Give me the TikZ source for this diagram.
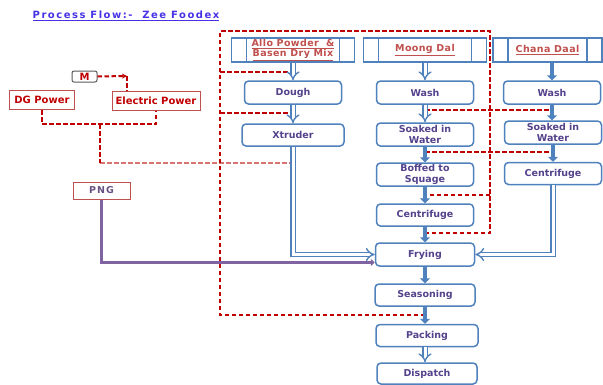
\documentclass[tikz,border=0pt]{standalone}
\usepackage{fontspec}
\setmainfont{DejaVu Sans}
\usetikzlibrary{arrows.meta, positioning, calc}
\definecolor{boxblue}{RGB}{79,129,189}
\definecolor{txtpurple}{RGB}{84,66,140}
\definecolor{hdrred}{RGB}{192,80,77}
\definecolor{feedred}{RGB}{192,0,0}
\definecolor{titleblue}{RGB}{70,50,230}
\definecolor{pngpurple}{RGB}{128,100,162}

\begin{document}
\begin{tikzpicture}[x=1pt, y=-1pt,
    procbox/.style={rectangle, draw=boxblue, line width=1.5pt, fill=white, rounded corners=4pt, text=txtpurple, align=center, inner sep=1pt, minimum width=97pt, minimum height=23pt, font=\fontsize{9.5}{10.5}\selectfont\bfseries},
    hdrbox/.style={rectangle, draw=boxblue, line width=1.6pt, fill=white, text=hdrred, align=center, inner sep=1pt, minimum height=24pt, font=\fontsize{9.5}{10.5}\selectfont\bfseries\addfontfeature{LetterSpace=4},
        path picture={\draw[boxblue, line width=1.4pt] ([xshift=15pt]path picture bounding box.north west) -- ([xshift=15pt]path picture bounding box.south west)
            ([xshift=-15pt]path picture bounding box.north east) -- ([xshift=-15pt]path picture bounding box.south east);}},
    powbox/.style={rectangle, draw=hdrred, line width=1pt, text=feedred, inner sep=1pt, minimum height=19pt, font=\fontsize{10}{11}\selectfont\bfseries},
    hollow/.style={draw=boxblue, line width=1.4pt, double=white, double distance=3pt, -{Implies}},
    solid/.style={draw=boxblue, line width=3.5pt, -{Triangle[length=5pt, width=10pt]}},
    feed/.style={draw=feedred, line width=2pt, dash pattern=on 4.5pt off 2.5pt},
    pngline/.style={draw=pngpurple, line width=2.2pt, -{Triangle[length=4pt, width=7pt]}}]
\useasboundingbox (0,0) rectangle (603,384);

% title
\node[text=titleblue, font=\fontsize{10}{11}\selectfont\bfseries\addfontfeature{LetterSpace=15}] (ttl) at (126,16) {\underline{Process Flow:-\ \ Zee Foodex}};

% raw material headers
\node[hdrbox, minimum width=123pt] (allo) at (293,50) {\underline{Allo Powder\ \ \&}\\\underline{Basen Dry Mix}};
\node[hdrbox, minimum width=123pt] (moong) at (425,50) {\underline{Moong Dal}};
\node[hdrbox, minimum width=109pt] (chana) at (547.5,50) {\underline{Chana Daal}};

% process steps
\node[procbox] (dough) at (293,92.5) {Dough};
\node[procbox, minimum width=102pt, minimum height=22pt] (xtr) at (293,135) {Xtruder};
\node[procbox] (mwash) at (425,92.5) {Wash};
\node[procbox] (msoak) at (425,134.5) {Soaked in\\Water};
\node[procbox] (mboff) at (425,174.5) {Boffed to\\Squage};
\node[procbox, minimum height=22pt] (mcent) at (425,215) {Centrifuge};
\node[procbox, minimum width=99pt] (fry) at (425,254.5) {Frying};
\node[procbox, minimum width=100pt, minimum height=22pt] (season) at (425,295) {Seasoning};
\node[procbox, minimum width=102pt, minimum height=22pt] (pack) at (427,335.5) {Packing};
\node[procbox, minimum width=100pt, minimum height=21pt] (disp) at (427,373.5) {Dispatch};
\node[procbox] (cwash) at (552,92.5) {Wash};
\node[procbox] (csoak) at (553,132.5) {Soaked in\\Water};
\node[procbox, minimum height=22pt] (ccent) at (553,173.5) {Centrifuge};

% utilities
\node[draw=gray!70!black, rounded corners=2pt, line width=1pt, text=feedred, inner sep=0pt, minimum width=25pt, minimum height=11pt, font=\fontsize{10}{10}\selectfont\bfseries] (m) at (84.5,76.5) {M};
\node[powbox, minimum width=65pt] (dg) at (42,100) {DG Power};
\node[powbox, minimum width=88pt] (elec) at (156,100.5) {Electric Power};
\node[draw=hdrred, line width=1pt, text=pngpurple!80!black, inner sep=1pt, minimum width=57pt, minimum height=17pt, font=\fontsize{9.5}{10}\selectfont\bfseries\addfontfeature{LetterSpace=12}] (png) at (101.5,190.5) {PNG};

% feed points
\coordinate (lt) at (220,31);
\coordinate (rt) at (490,31);
\coordinate (fd1) at (293,72);
\coordinate (fd2) at (293,113);
\coordinate (fm1) at (425,110);
\coordinate (fm2) at (425,152);
\coordinate (fm3) at (425,195);
\coordinate (fm4) at (425,233);
\coordinate (fs) at (425,315);
\coordinate (fx) at (293,163);
\coordinate (pj) at (100,124);
\coordinate (mj) at (127,76);

% dashed feed lines
\draw[feed] (fs) -| (lt) -- (rt) |- (fm4);
\draw[feed] (rt |- fm3) -- (fm3);
\draw[feed] (lt |- fd1) -- (fd1);
\draw[feed] (lt |- fd2) -- (fd2);
\draw[feed] (fm1) -- (fm1 -| cwash);
\draw[feed] (fm2) -- (fm2 -| csoak);
\draw[feed] (dg.south) |- (elec.south |- pj) -- (elec.south);
\draw[feed] (pj) -- (pj |- fx);
\draw[feed, draw opacity=0.55] (pj |- fx) -- (fx);
\draw[feed, -{Stealth[length=5pt, width=5pt]}] (m.east) -- (mj);
\draw[feed] (mj) -- (mj |- elec.north);

% product flow
\draw[hollow] (allo.south) -- (dough.north);
\draw[hollow] (dough.south) -- (xtr.north);
\draw[hollow] (xtr.south) |- (fry.west);
\draw[hollow] (moong.south) -- (mwash.north);
\draw[hollow] (mwash.south) -- (msoak.north);
\draw[solid] (msoak.south) -- (mboff.north);
\draw[solid] (mboff.south) -- (mcent.north);
\draw[solid] (mcent.south) -- (fry.north);
\draw[solid] (cwash.north |- chana.south) -- (cwash.north);
\draw[solid] (cwash.south) -- (cwash.south |- csoak.north);
\draw[solid] (csoak.south) -- (csoak.south |- ccent.north);
\draw[hollow] (ccent.south) |- (fry.east);
\draw[solid] (fry.south) -- (season.north);
\draw[solid] (season.south) -- (season.south |- pack.north);
\draw[hollow] (season.south |- pack.south) -- (season.south |- disp.north);
\draw[pngline] (png.south) |- ([yshift=-8pt]fry.west);
\end{tikzpicture}
\end{document}
